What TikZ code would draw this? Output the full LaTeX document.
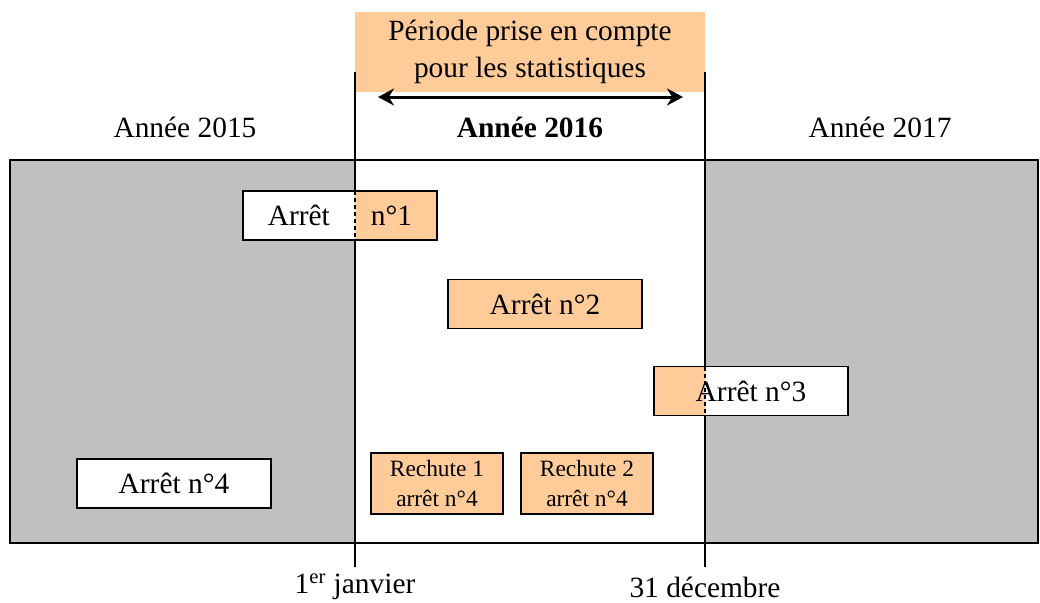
\documentclass[tikz,border=0pt]{standalone}
\usepackage{fontspec}
\setmainfont{Liberation Serif}
\usetikzlibrary{arrows.meta}
\definecolor{peach}{HTML}{FFCC99}
\definecolor{greyzone}{HTML}{C0C0C0}

\begin{document}
\begin{tikzpicture}[x=0.5pt,y=-0.5pt,
  font=\fontsize{14.7}{18.5}\selectfont,
  rule/.style={line width=0.9pt},
  box/.style={draw,rule,fill=white,minimum width=97pt,minimum height=24.5pt,inner sep=0pt},
  hot/.style={box,fill=peach},
  rechute/.style={hot,align=center,minimum width=66pt,minimum height=30.5pt,
    font=\fontsize{11.7}{15}\selectfont},
  cut/.style={dash pattern=on 2pt off 1.5pt,rule}]
  \useasboundingbox (0,0) rectangle (1040,602);
  % the three years
  \fill[greyzone] (10,160) rectangle (1038,543);
  \fill[white] (355,160) rectangle (705,543);
  \draw[rule] (10,160) rectangle (1038,543);
  \node[fill=peach,minimum width=175pt,minimum height=40pt,align=center] (periode) at (530,52)
    {P\'eriode prise en compte\\pour les statistiques};
  \coordinate (jan) at (355,72);
  \coordinate (jan end) at (355,567);
  \coordinate (dec) at (705,72);
  \coordinate (dec end) at (705,567);
  \draw[rule] (jan) -- (jan end);
  \draw[rule] (dec) -- (dec end);
  \coordinate (left) at (378,97);
  \coordinate (right) at (683,97);
  \draw[line width=1.5pt,{Stealth[length=8pt,width=8.5pt]}-{Stealth[length=8pt,width=8.5pt]}] (left) -- (right);
  \node (an2015) at (185,127) {Ann\'ee 2015};
  \node (an2016) at (530,127) {\textbf{Ann\'ee 2016}};
  \node (an2017) at (880,127) {Ann\'ee 2017};
  \node (debut) at (355,587) {1\textsuperscript{er} janvier};
  \node (fin) at (705,587) {31 d\'ecembre};
  % the stops
  \node[box,path picture={
      \fill[peach] (jan |- path picture bounding box.north) rectangle (path picture bounding box.south east);
      \draw[cut] (jan |- path picture bounding box.north) -- (jan |- path picture bounding box.south);}]
    (arret1) at (340,215.5) {Arr\^et\hspace{1.4em}n\textdegree1};
  \node[hot] (arret2) at (545,304) {Arr\^et n\textdegree2};
  \node[box,path picture={
      \fill[peach] (path picture bounding box.north west) rectangle (dec |- path picture bounding box.south);
      \draw[cut] (dec |- path picture bounding box.north) -- (dec |- path picture bounding box.south);}]
    (arret3) at (751,391) {Arr\^et n\textdegree3};
  \node[box] (arret4) at (174,483.5) {Arr\^et n\textdegree4};
  \node[rechute] (rechute1) at (437,483.5) {Rechute 1\\arr\^et n\textdegree4};
  \node[rechute] (rechute2) at (587,483.5) {Rechute 2\\arr\^et n\textdegree4};
\end{tikzpicture}
\end{document}
